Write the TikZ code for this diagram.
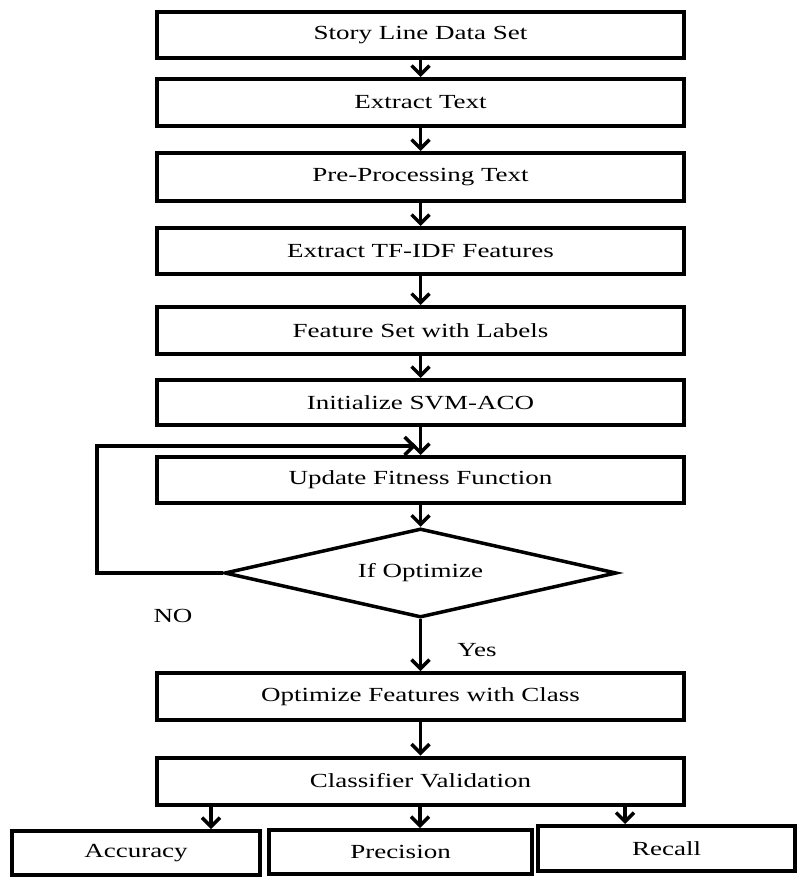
\documentclass[tikz,border=0pt]{standalone}
\usepackage{fontspec}
\setmainfont[FakeStretch=1.35]{Liberation Serif}
\usetikzlibrary{arrows.meta,shapes.geometric}
\begin{document}
\begin{tikzpicture}[x=1pt,y=-1pt,
  txt/.style={font=\fontsize{20}{24}\selectfont},
  box/.style={draw,line width=4pt,minimum width=527pt,inner sep=0pt,txt},
  smallbox/.style={draw,line width=4pt,inner sep=0pt,txt},
  arr/.style={line width=3.5pt,-{Straight Barb[length=9pt,width=18pt]}}]
\useasboundingbox (0,0) rectangle (798,877);
\node[box,minimum height=46pt] (b1) at (420.5,35) {Story Line Data Set};
\node[box,minimum height=47pt] (b2) at (420.5,102.5) {Extract Text};
\node[box,minimum height=48pt] (b3) at (420.5,177) {Pre-Processing Text};
\node[box,minimum height=46pt] (b4) at (420.5,251) {Extract TF-IDF Features};
\node[box,minimum height=47pt] (b5) at (420.5,330.5) {Feature Set with Labels};
\node[box,minimum height=45pt] (b6) at (420.5,402.5) {Initialize SVM-ACO};
\node[box,minimum height=46pt] (b7) at (420.5,480) {Update Fitness Function};
\node[draw,line width=3.5pt,diamond,aspect=4.4,minimum width=392pt,minimum height=89pt,inner sep=0pt,txt] (d) at (420.5,573) {If Optimize};
\node[box,minimum height=47pt] (b8) at (420.5,696.5) {Optimize Features with Class};
\node[box,minimum height=47pt] (b9) at (420.5,781) {Classifier Validation};
\node[smallbox,minimum width=248pt,minimum height=44pt] (acc) at (136,853) {Accuracy};
\node[smallbox,minimum width=263pt,minimum height=44pt] (prec) at (400.5,852) {Precision};
\node[smallbox,minimum width=257pt,minimum height=45pt] (rec) at (666.5,848.5) {Recall};
\node[txt] (no) at (173,616) {NO};
\node[txt] (yes) at (477,650) {Yes};
\coordinate (lp) at (97,446);
\coordinate (lq) at (416,446);
\coordinate (c1) at (211,0);
\coordinate (c2) at (420,0);
\coordinate (c3) at (625,0);
\draw[arr] (b1) -- (b2);
\draw[arr] (b2) -- (b3);
\draw[arr] (b3) -- (b4);
\draw[arr] (b4) -- (b5);
\draw[arr] (b5) -- (b6);
\draw[arr] (b6) -- (b7);
\draw[arr] (b7) -- (d);
\draw[arr] (d.west) -| (lp) -- (lq);
\draw[arr] (d.south) -- (b8.north);
\draw[arr] (b8) -- (b9);
\draw[arr] (b9.south -| c1) -- (c1 |- acc.north);
\draw[arr] (b9.south -| c2) -- (c2 |- prec.north);
\draw[arr] (b9.south -| c3) -- (c3 |- rec.north);
\end{tikzpicture}
\end{document}
